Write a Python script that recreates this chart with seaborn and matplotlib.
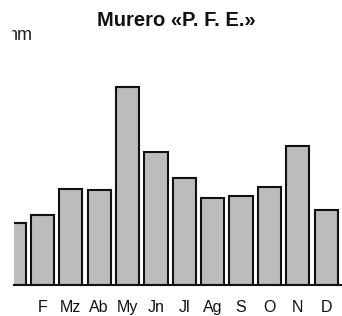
import matplotlib
matplotlib.use("Agg")
import matplotlib.pyplot as plt
import seaborn as sns
import pandas as pd
from matplotlib.ticker import FixedLocator
from matplotlib.transforms import Bbox, TransformedBbox

months = ["E", "F", "Mz", "Ab", "My", "Jn", "Jl", "Ag", "S", "O", "N", "D"]
tick_labels = ["", "F", "Mz", "Ab", "My", "Jn", "Jl", "Ag", "S", "O", "N", "D"]
precip_mm = [24.8, 28.0, 38.3, 38.0, 79.2, 53.2, 42.8, 34.8, 35.6, 39.2, 55.6, 30.0]

df = pd.DataFrame({"mes": months, "mm": precip_mm})

sns.set_style("white")
plt.rcParams["font.family"] = ["Liberation Sans", "DejaVu Sans"]

W, H = 342, 316
fig = plt.figure(figsize=(W / 100, H / 100), dpi=100)
ax_left, ax_right = 14 / W, 341 / W
ax_bottom, ax_top = (H - 285) / H, (H - 60) / H
ax = fig.add_axes([ax_left, ax_bottom, ax_right - ax_left, ax_top - ax_bottom])

sns.barplot(data=df, x="mes", y="mm", ax=ax, color="#bcbcbc", saturation=1,
            width=0.82, edgecolor="#111111", linewidth=1.5)

ax.set_xlim(0.09, 11.52)
ax.set_ylim(0, 90)
for s in ["top", "right", "left"]:
    ax.spines[s].set_visible(False)
ax.spines["bottom"].set_linewidth(1.5)
ax.spines["bottom"].set_color("#111111")
ax.set_yticks([])
ax.set_xticks(range(len(months)))
ax.set_xticklabels(tick_labels, fontsize=11.5, color="#111111")
ax.tick_params(axis="x", which="major", length=0, pad=11)
ax.xaxis.set_minor_locator(FixedLocator([i + 0.5 for i in range(12)]))
ax.tick_params(axis="x", which="minor", length=8, width=1.5, color="#111111", direction="out")
ax.set_xlabel("")
ax.set_ylabel("")

fig.text(176 / W, 1 - 20 / H, "Murero «P. F. E.»", ha="center", va="center",
         fontsize=14.5, fontweight="bold", color="#111111")
t = fig.text(33 / W, 1 - 36 / H, "mm", ha="right", va="center", fontsize=13, color="#222222")
t.set_clip_box(TransformedBbox(Bbox([[12 / W, 0], [1, 1]]), fig.transFigure))

fig.savefig("out.png", dpi=100)
